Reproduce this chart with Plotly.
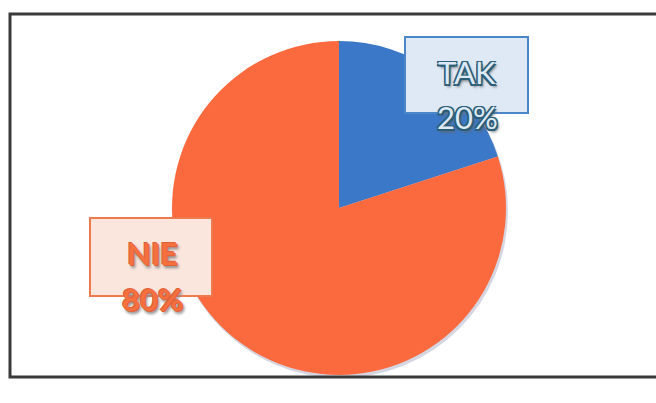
import plotly.graph_objects as go

labels = ["TAK", "NIE"]
values = [20, 80]
colors = ["#3b78c8", "#fb6a3e"]

W, H = 656, 403

def px(x):
    return x / W

def py(y):
    return 1 - y / H

fig = go.Figure()
fig.add_trace(go.Pie(
    labels=labels, values=values, sort=False, direction="clockwise", rotation=0,
    marker=dict(colors=colors, line=dict(width=0)),
    textinfo="none", hoverinfo="label+percent", showlegend=False,
    domain=dict(x=[px(172), px(506)], y=[py(375), py(41)]),
))

shapes = [
    # frame
    dict(type="rect", xref="paper", yref="paper", x0=px(10), x1=px(662), y0=py(377), y1=py(14),
         line=dict(color="#3a3a3a", width=3), fillcolor="rgba(0,0,0,0)", layer="above"),
    # soft shadow under pie
    dict(type="circle", xref="paper", yref="paper", x0=px(173), x1=px(508), y0=py(378), y1=py(44),
         line=dict(width=0), fillcolor="rgba(120,120,160,0.3)", layer="below"),
    # label boxes
    dict(type="rect", xref="paper", yref="paper", x0=px(405), x1=px(528), y0=py(113), y1=py(37),
         line=dict(color="#4a86c8", width=2), fillcolor="#dfe9f6", layer="above"),
    dict(type="rect", xref="paper", yref="paper", x0=px(90), x1=px(212), y0=py(296), y1=py(218),
         line=dict(color="#f07a50", width=2), fillcolor="#fbe6de", layer="above"),
]

outline_blue = ("-1.5px -1.5px 0 #2c5d78, 1.5px -1.5px 0 #2c5d78, -1.5px 1.5px 0 #2c5d78, "
                "1.5px 1.5px 0 #2c5d78, 2px 3px 3px #666")
shadow_orange = "-1px -1px 0 #e0603a, 1px 1px 0 #e0603a, 2px 3px 3px #888"

def label_anns(i, cx, cy1, cy2, fill, shadow, weight):
    pct = round(100 * values[i] / sum(values))
    out = []
    for txt, cy in [(labels[i], cy1), (f"{pct}%", cy2)]:
        out.append(dict(text=txt, xref="paper", yref="paper", x=px(cx), y=py(cy),
                        xanchor="center", yanchor="middle", showarrow=False,
                        font=dict(family="Lato, Open Sans, sans-serif", size=31, color=fill,
                                  weight=weight, shadow=shadow)))
    return out

annotations = label_anns(0, 467, 72, 117, "#dde9f4", outline_blue, 400) + \
              label_anns(1, 152, 253, 299, "#f4703f", shadow_orange, 700)

fig.update_layout(
    width=W, height=H, margin=dict(l=0, r=0, t=0, b=0),
    paper_bgcolor="white", plot_bgcolor="white",
    shapes=shapes, annotations=annotations,
)
fig.write_html("out.html")
